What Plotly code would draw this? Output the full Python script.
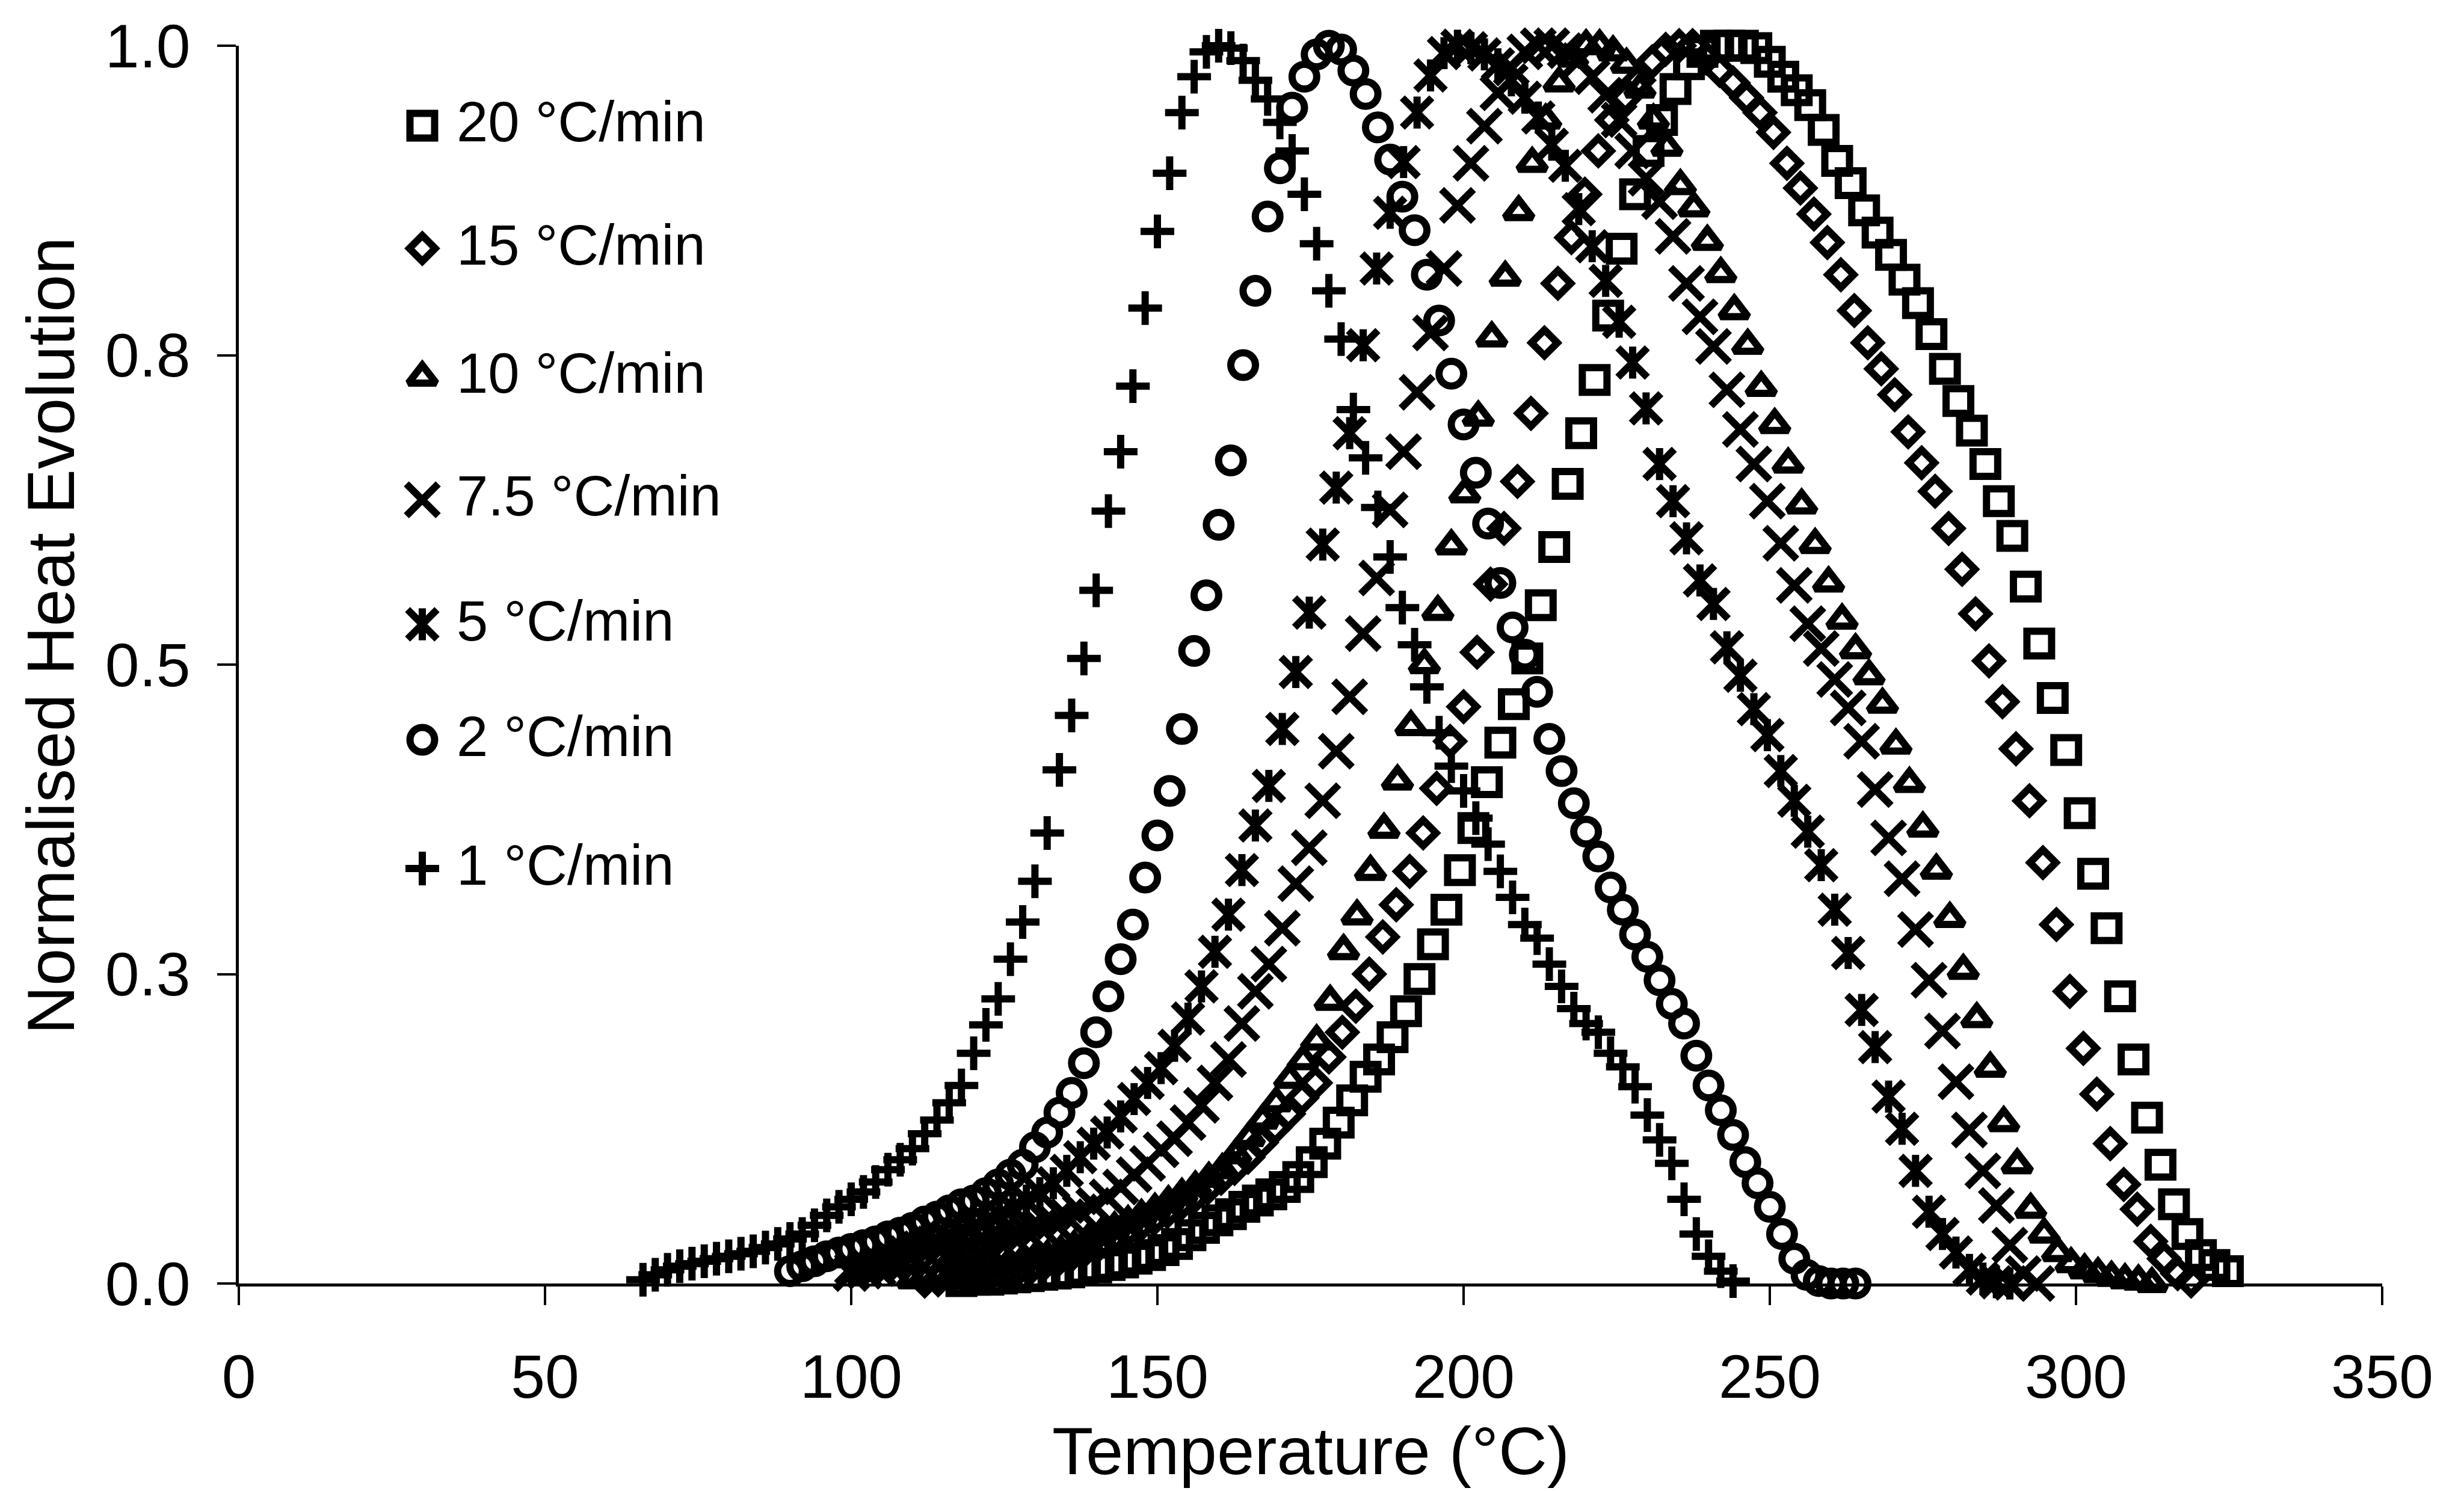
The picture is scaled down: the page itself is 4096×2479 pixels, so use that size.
import plotly.graph_objects as go

# ---------------- data ----------------
labels = ["20 °C/min", "15 °C/min", "10 °C/min", "7.5 °C/min", "5 °C/min", "2 °C/min", "1 °C/min"]

x_ticks = [0, 50, 100, 150, 200, 250, 300, 350]
y_ticks = [0.0, 0.25, 0.5, 0.75, 1.0]
y_ticktext = ["0.0", "0.3", "0.5", "0.8", "1.0"]

# 1 °C/min  (+)
t1 = [66, 68, 70, 72, 74, 76, 78, 80, 82, 84, 86, 88, 90, 92, 94, 96, 98, 100, 102, 104,
      106, 108, 110, 112, 114, 116, 118, 120, 122, 124, 126, 128, 130, 132, 134, 136, 138, 140, 142, 144,
      146, 148, 150, 152, 154, 156, 158, 160, 162, 164, 166, 168, 170, 172, 174, 176, 178, 180, 182, 184,
      186, 188, 190, 192, 194, 196, 198, 200, 202, 204, 206, 208, 210, 212, 214, 216, 218, 220, 222, 224,
      226, 228, 230, 232, 234, 236, 238, 240, 242, 244]
v1 = [.003, .007, .011, .014, .016, .018, .020, .022, .024, .026, .029, .032, .036, .040, .047, .055, .062, .068, .074, .082,
      .092, .100, .109, .121, .132, .146, .160, .186, .209, .230, .262, .292, .325, .364, .415, .459, .505, .560, .624, .672,
      .725, .788, .850, .897, .946, .975, .995, 1.0, .998, .988, .972, .957, .938, .915, .880, .840, .802, .763, .706, .667,
      .627, .587, .546, .516, .482, .445, .418, .398, .376, .355, .333, .312, .290, .279, .258, .240, .222, .210, .203, .186,
      .175, .159, .136, .116, .097, .068, .040, .022, .010, .002]

# 2 °C/min  (o)
t2 = [90, 92, 94, 96, 98, 100, 102, 104, 106, 108, 110, 112, 114, 116, 118, 120, 122, 124, 126, 128,
      130, 132, 134, 136, 138, 140, 142, 144, 146, 148, 150, 152, 154, 156, 158, 160, 162, 164, 166, 168,
      170, 172, 174, 176, 178, 180, 182, 184, 186, 188, 190, 192, 194, 196, 198, 200, 202, 204, 206, 208,
      210, 212, 214, 216, 218, 220, 222, 224, 226, 228, 230, 232, 234, 236, 238, 240, 242, 244, 246, 248,
      250, 252, 254, 256, 258, 260, 262, 264]
v2 = [.010, .014, .018, .022, .025, .028, .031, .034, .038, .041, .045, .050, .054, .059, .064, .067, .073, .080, .088, .096,
      .110, .122, .138, .154, .178, .203, .232, .262, .290, .328, .362, .398, .448, .511, .556, .613, .665, .742, .802, .862,
      .901, .950, .975, .993, 1.0, .997, .980, .961, .934, .908, .878, .851, .815, .778, .735, .694, .655, .614, .566, .530,
      .508, .478, .440, .414, .388, .365, .345, .320, .302, .282, .264, .245, .226, .210, .184, .160, .140, .120, .098, .081,
      .062, .040, .020, .007, .002, 0.0, 0.0, 0.0]

# 5 °C/min  (asterisk)
t5 = [100.0, 102.2, 104.4, 106.6, 108.8, 111.0, 113.2, 115.4, 117.6, 119.8,
      122.0, 124.2, 126.4, 128.6, 130.8, 133.0, 135.2, 137.4, 139.6, 141.8,
      144.0, 146.2, 148.4, 150.6, 152.8, 155.0, 157.2, 159.4, 161.6, 163.8,
      166.0, 168.2, 170.4, 172.6, 174.8, 177.0, 179.2, 181.4, 183.6, 185.8,
      188.0, 190.2, 192.4, 194.6, 196.8, 199.0, 201.2, 203.4, 205.6, 207.8,
      210.0, 212.2, 214.4, 216.6, 218.8, 221.0, 223.2, 225.4, 227.6, 229.8,
      232.0, 234.2, 236.4, 238.6, 240.8, 243.0, 245.2, 247.4, 249.6, 251.8,
      254.0, 256.2, 258.4, 260.6, 262.8, 265.0, 267.2, 269.4, 271.6, 273.8,
      276.0, 278.2, 280.4, 282.6, 284.8, 287.0, 289.2]
v5 = [.012, .015, .018, .021, .025, .029, .033, .037, .041, .045,
      .050, .055, .061, .067, .073, .081, .091, .102, .113, .122,
      .135, .149, .162, .174, .192, .214, .240, .268, .298, .334,
      .370, .402, .448, .494, .542, .597, .643, .687, .758, .820,
      .865, .906, .946, .976, .994, 1.0, .998, .993, .985, .972,
      .958, .942, .920, .903, .868, .838, .810, .777, .744, .707,
      .662, .632, .602, .568, .549, .514, .491, .464, .443, .414,
      .390, .365, .338, .302, .267, .221, .191, .151, .125, .091,
      .058, .040, .025, .011, .004, .001, 0.0]

# 7.5 °C/min  (x)
t75 = [100.0, 102.2, 104.4, 106.6, 108.8, 111.0, 113.2, 115.4, 117.6, 119.8,
       122.0, 124.2, 126.4, 128.6, 130.8, 133.0, 135.2, 137.4, 139.6, 141.8,
       144.0, 146.2, 148.4, 150.6, 152.8, 155.0, 157.2, 159.4, 161.6, 163.8,
       166.0, 168.2, 170.4, 172.6, 174.8, 177.0, 179.2, 181.4, 183.6, 185.8,
       188.0, 190.2, 192.4, 194.6, 196.8, 199.0, 201.2, 203.4, 205.6, 207.8,
       210.0, 212.2, 214.4, 216.6, 218.8, 221.0, 223.2, 225.4, 227.6, 229.8,
       232.0, 234.2, 236.4, 238.6, 240.8, 243.0, 245.2, 247.4, 249.6, 251.8,
       254.0, 256.2, 258.4, 260.6, 262.8, 265.0, 267.2, 269.4, 271.6, 273.8,
       276.0, 278.2, 280.4, 282.6, 284.8, 287.0, 289.2, 291.4, 293.6]
v75 = [.008, .010, .012, .014, .016, .018, .020, .022, .025, .028,
       .031, .034, .038, .042, .046, .050, .054, .058, .063, .070,
       .078, .088, .097, .108, .117, .130, .144, .162, .181, .210,
       .236, .258, .287, .323, .352, .390, .430, .474, .525, .570,
       .625, .672, .720, .768, .820, .871, .905, .935, .962, .982,
       .995, 1.0, 1.0, .996, .988, .975, .960, .940, .915, .893,
       .874, .846, .808, .781, .757, .722, .690, .662, .632, .598,
       .564, .533, .513, .488, .465, .438, .399, .360, .327, .286,
       .245, .204, .163, .124, .091, .063, .031, .008, 0.0]

# 10 °C/min  (triangle)
t10 = [110.0, 112.2, 114.4, 116.6, 118.8, 121.0, 123.2, 125.4, 127.6, 129.8,
       132.0, 134.2, 136.4, 138.6, 140.8, 143.0, 145.2, 147.4, 149.6, 151.8,
       154.0, 156.2, 158.4, 160.6, 162.8, 165.0, 167.2, 169.4, 171.6, 173.8,
       176.0, 178.2, 180.4, 182.6, 184.8, 187.0, 189.2, 191.4, 193.6, 195.8,
       198.0, 200.2, 202.4, 204.6, 206.8, 209.0, 211.2, 213.4, 215.6, 217.8,
       220.0, 222.2, 224.4, 226.6, 228.8, 231.0, 233.2, 235.4, 237.6, 239.8,
       242.0, 244.2, 246.4, 248.6, 250.8, 253.0, 255.2, 257.4, 259.6, 261.8,
       264.0, 266.2, 268.4, 270.6, 272.8, 275.0, 277.2, 279.4, 281.6, 283.8,
       286.0, 288.2, 290.4, 292.6, 294.8, 297.0, 299.2, 301.4, 303.6, 305.8,
       308.0, 310.2, 312.4]
v10 = [.003, .004, .005, .006, .008, .010, .012, .014, .016, .019,
       .022, .026, .030, .035, .040, .045, .050, .055, .060, .066,
       .072, .078, .085, .092, .104, .118, .132, .146, .165, .180,
       .196, .228, .269, .297, .333, .367, .406, .450, .500, .543,
       .596, .638, .700, .764, .813, .866, .905, .940, .970, .990,
       1.0, 1.0, .995, .985, .965, .940, .918, .887, .869, .842,
       .816, .786, .758, .724, .694, .662, .629, .597, .566, .536,
       .512, .491, .468, .435, .404, .368, .334, .295, .253, .214,
       .174, .130, .096, .060, .040, .025, .016, .011, .008, .005,
       .003, .002, 0.0]

# 15 °C/min  (diamond)
t15 = [112.0, 114.2, 116.4, 118.6, 120.8, 123.0, 125.2, 127.4, 129.6, 131.8,
       134.0, 136.2, 138.4, 140.6, 142.8, 145.0, 147.2, 149.4, 151.6, 153.8,
       156.0, 158.2, 160.4, 162.6, 164.8, 167.0, 169.2, 171.4, 173.6, 175.8,
       178.0, 180.2, 182.4, 184.6, 186.8, 189.0, 191.2, 193.4, 195.6, 197.8,
       200.0, 202.2, 204.4, 206.6, 208.8, 211.0, 213.2, 215.4, 217.6, 219.8,
       222.0, 224.2, 226.4, 228.6, 230.8, 233.0, 235.2, 237.4, 239.6, 241.8,
       244.0, 246.2, 248.4, 250.6, 252.8, 255.0, 257.2, 259.4, 261.6, 263.8,
       266.0, 268.2, 270.4, 272.6, 274.8, 277.0, 279.2, 281.4, 283.6, 285.8,
       288.0, 290.2, 292.4, 294.6, 296.8, 299.0, 301.2, 303.4, 305.6, 307.8,
       310.0, 312.2, 314.4, 316.6, 318.8]
v15 = [.002, .003, .004, .005, .006, .008, .010, .012, .014, .017,
       .020, .024, .028, .032, .037, .042, .047, .052, .058, .064,
       .070, .077, .085, .093, .102, .114, .126, .137, .150, .162,
       .183, .203, .224, .250, .280, .306, .333, .364, .400, .438,
       .466, .510, .565, .610, .648, .703, .760, .808, .845, .880,
       .915, .940, .958, .972, .987, .997, 1.0, 1.0, .990, .980,
       .970, .958, .946, .930, .905, .885, .864, .841, .815, .786,
       .760, .739, .718, .688, .663, .640, .610, .577, .541, .503,
       .470, .432, .390, .340, .290, .236, .190, .153, .113, .080,
       .060, .034, .020, .008, .002]

# 20 °C/min  (square)
t20 = [118.0, 120.2, 122.4, 124.6, 126.8, 129.0, 131.2, 133.4, 135.6, 137.8,
       140.0, 142.2, 144.4, 146.6, 148.8, 151.0, 153.2, 155.4, 157.6, 159.8,
       162.0, 164.2, 166.4, 168.6, 170.8, 173.0, 175.2, 177.4, 179.6, 181.8,
       184.0, 186.2, 188.4, 190.6, 192.8, 195.0, 197.2, 199.4, 201.6, 203.8,
       206.0, 208.2, 210.4, 212.6, 214.8, 217.0, 219.2, 221.4, 223.6, 225.8,
       228.0, 230.2, 232.4, 234.6, 236.8, 239.0, 241.2, 243.4, 245.6, 247.8,
       250.0, 252.2, 254.4, 256.6, 258.8, 261.0, 263.2, 265.4, 267.6, 269.8,
       272.0, 274.2, 276.4, 278.6, 280.8, 283.0, 285.2, 287.4, 289.6, 291.8,
       294.0, 296.2, 298.4, 300.6, 302.8, 305.0, 307.2, 309.4, 311.6, 313.8,
       316.0, 318.2, 320.4, 322.6, 324.8]
v20 = [.002, .003, .003, .004, .005, .006, .007, .008, .009, .011,
       .013, .015, .017, .020, .023, .027, .032, .039, .045, .051,
       .056, .062, .067, .072, .078, .086, .098, .113, .130, .148,
       .167, .181, .199, .220, .246, .274, .302, .334, .368, .405,
       .437, .468, .505, .548, .595, .646, .687, .730, .782, .836,
       .880, .915, .940, .965, .985, .995, 1.0, 1.0, 1.0, .998,
       .987, .975, .964, .952, .932, .907, .889, .867, .849, .831,
       .811, .792, .767, .739, .713, .689, .662, .632, .604, .563,
       .517, .473, .431, .380, .331, .287, .232, .181, .134, .096,
       .064, .040, .023, .015, .010]

for a, b in [(t1, v1), (t2, v2), (t5, v5), (t75, v75), (t10, v10), (t15, v15), (t20, v20)]:
    assert len(a) == len(b), (len(a), len(b))

# ---------------- styling / layout ----------------
W, H = 4096, 2479
ML, MR, MT, MB = 397, 136, 76, 345
PW, PH = W - ML - MR, H - MT - MB
FONT = "Liberation Sans, Arial, Helvetica, sans-serif"
LW = 12

def px_x(p):
    return (p - ML) / PW

def px_y(p):
    return (H - MB - p) / PH

styles = {
    "20 °C/min": [("square-open", 41)],
    "15 °C/min": [("diamond-open", 33)],
    "10 °C/min": [("triangle-up-open", 40)],
    "7.5 °C/min": [("x-thin-open", 53)],
    "5 °C/min": [("x-thin-open", 49), ("line-ns-open", 38)],
    "2 °C/min": [("circle-open", 41)],
    "1 °C/min": [("cross-thin-open", 40)],
}
data_map = {
    "20 °C/min": (t20, v20), "15 °C/min": (t15, v15), "10 °C/min": (t10, v10),
    "7.5 °C/min": (t75, v75), "5 °C/min": (t5, v5), "2 °C/min": (t2, v2), "1 °C/min": (t1, v1),
}

fig = go.Figure()
for lab in labels:
    xs, ys = data_map[lab]
    for sym, sz in styles[lab]:
        fig.add_trace(go.Scatter(
            x=xs, y=ys, mode="markers", cliponaxis=False, showlegend=False, hoverinfo="skip",
            marker=dict(symbol=sym, size=sz, color="black", line=dict(width=LW, color="black")),
        ))

# hand-drawn legend (markers on an invisible overlay axis in plot-fraction units)
leg_y_px = [209, 413, 627, 831, 1038, 1230, 1444]
leg_marker_x = px_x(702)
leg_text_x = px_x(757)
for lab, yp in zip(labels, leg_y_px):
    for sym, sz in styles[lab]:
        fig.add_trace(go.Scatter(
            x=[leg_marker_x], y=[px_y(yp)], xaxis="x2", yaxis="y2", mode="markers",
            cliponaxis=False, showlegend=False, hoverinfo="skip",
            marker=dict(symbol=sym, size=sz, color="black", line=dict(width=LW, color="black")),
        ))
    fig.add_annotation(x=leg_text_x, y=px_y(yp - 6), xref="paper", yref="paper", text=lab,
                       showarrow=False, xanchor="left", yanchor="middle",
                       font=dict(family=FONT, size=94, color="black"))

# axis titles
fig.add_annotation(x=px_x(84), y=px_y(1057), xref="paper", yref="paper",
                   text="Normalised Heat Evolution", textangle=-90, showarrow=False,
                   xanchor="center", yanchor="middle", font=dict(family=FONT, size=112, color="black"))
fig.add_annotation(x=0.5, y=px_y(2412), xref="paper", yref="paper",
                   text="Temperature (°C)", showarrow=False,
                   xanchor="center", yanchor="middle", font=dict(family=FONT, size=112, color="black"))

axis_common = dict(showline=True, linecolor="black", linewidth=5, showgrid=False, zeroline=False,
                   ticks="outside", ticklen=31, tickwidth=4, tickcolor="black",
                   tickfont=dict(family=FONT, size=102, color="black"))

fig.update_layout(
    width=W, height=H,
    margin=dict(l=ML, r=MR, t=MT, b=MB, pad=0),
    paper_bgcolor="white", plot_bgcolor="white",
    showlegend=False,
    xaxis=dict(range=[0, 350], tickmode="array", tickvals=x_ticks,
               ticktext=[str(v) for v in x_ticks], ticklabelstandoff=32, **axis_common),
    yaxis=dict(range=[0, 1], tickmode="array", tickvals=y_ticks, ticktext=y_ticktext,
               ticklabelstandoff=24, **axis_common),
    xaxis2=dict(overlaying="x", range=[0, 1], visible=False, anchor="y2"),
    yaxis2=dict(overlaying="y", range=[0, 1], visible=False, anchor="x2"),
)

fig.write_html("out.html")
